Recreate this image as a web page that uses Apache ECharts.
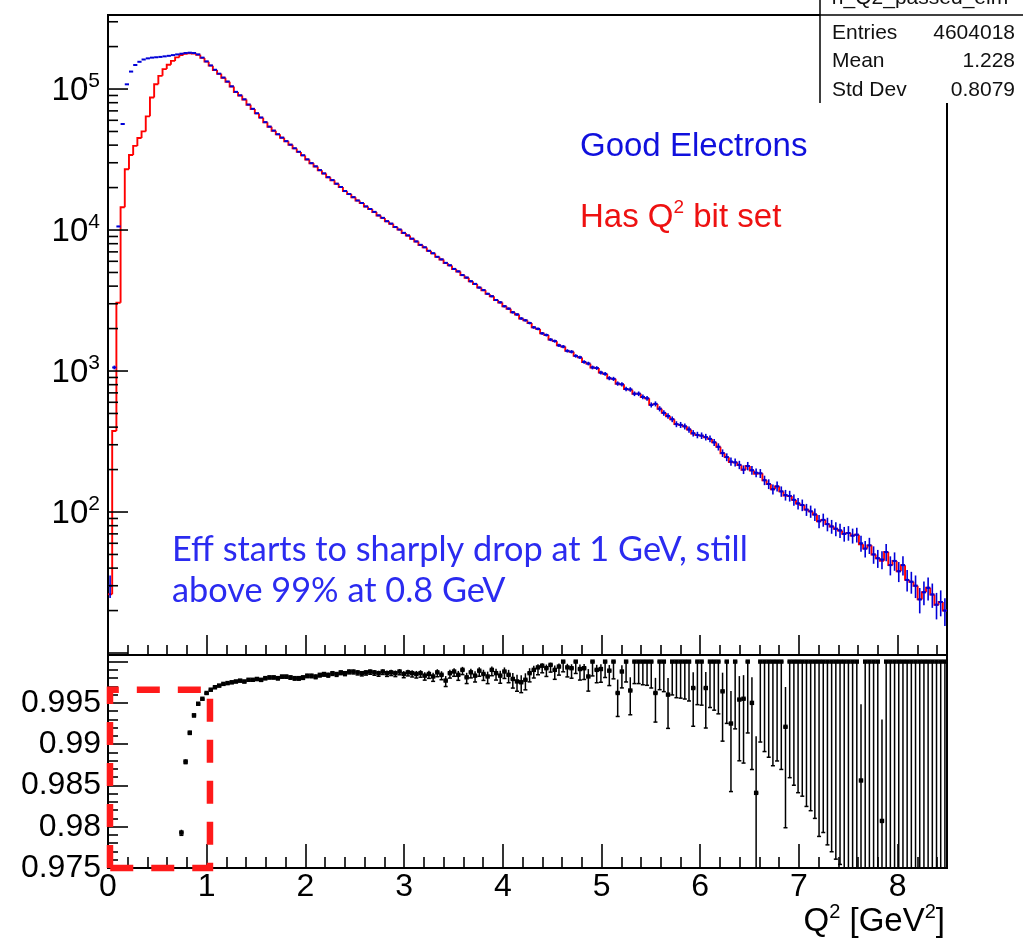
<!DOCTYPE html>
<html>
<head>
<meta charset="utf-8">
<script src="https://cdn.jsdelivr.net/npm/echarts@6.0.0/dist/echarts.min.js"></script>
<style>
html,body{margin:0;padding:0;background:#ffffff;}
#chart{width:1023px;height:940px;}
</style>
</head>
<body>
<div id="chart"></div>
<script>
// ---------------- data ----------------
const xRange = [0, 8.5];               // Q^2 histogram range, 200 bins
const goodElectrons = [
  30,1060,10600,56500,108000,133000,148000,156000,162000,165000,
  167000,168000,169000,170500,172000,174000,176000,178000,180000,181000,
  180000,176000,167000,157000,147000,137000,128500,120500,113000,104500,
  95500,90200,84500,77600,72400,67300,62800,58200,54100,50700,
  47800,45200,42700,40300,38000,35900,33900,31700,29800,28300,
  26600,25200,23700,22600,21300,20200,18900,18000,17100,16200,
  15550,14700,14100,13450,12700,12200,11550,11100,10500,10080,
  9550,9150,8680,8300,7850,7540,7130,6840,6460,6190,
  5850,5620,5300,5090,4790,4600,4330,4150,3910,3750,
  3530,3390,3190,3070,2880,2770,2610,2520,2360,2290,
  2190,2040,1990,1850,1800,1670,1630,1520,1490,1390,
  1370,1280,1250,1160,1130,1060,1050,975,955,890,
  880,815,805,745,740,690,690,655,640,575,
  585,540,505,480,455,420,415,405,385,362,
  352,348,340,330,312,290,262,245,228,225,
  216,200,212,198,190,188,168,158,145,152,
  140,132,130,122,115,112,104,101,96,86,
  88,82,79,76,74,70,71,68,69,60,
  55,58,50,47,46,52,42,45,38,42,
  33,32,30,24,27,29,26,22,23,20
];
const efficiency = [
  0.87,0.354,0.288,0.257,0.25,0.256,0.267,0.288,0.309,0.388,
  0.521,0.643,0.734,0.812,0.865,0.91,0.952,
  0.9793,0.9879,0.9914,0.9935,0.9949,0.9955,0.9962,0.9966,
  0.9969,0.9971,0.9973,0.9974,0.9975,0.9976,0.9977,0.9976,0.9978,0.9978,
  0.9979,0.9978,0.998,0.9981,0.9981,0.998,0.9982,0.9982,0.9981,0.998,
  0.998,0.9981,0.9983,0.9983,0.9982,0.9984,0.9985,0.9984,0.9986,0.9985,
  0.9987,0.9986,0.9988,0.9988,0.9987,0.9986,0.9987,0.9988,0.9987,0.9986,
  0.9988,0.9986,0.9987,0.9986,0.9988,0.9985,0.9987,0.9986,0.9985,0.9986,
  0.9983,0.9985,0.9982,0.9987,0.9984,0.9977,0.9986,0.9988,0.9984,0.999,
  0.9981,0.9987,0.9983,0.9989,0.9985,0.9982,0.999,0.9986,0.9983,0.9988,
  0.9984,0.9979,0.9976,0.9975,0.9978,0.9986,0.999,0.9993,0.9995,0.9992,
  0.9996,0.999,0.9994,1,0.9993,0.9992,1,0.9991,0.9992,0.9982,
  1,0.999,0.9991,1,0.9989,1,0.9962,0.9988,1,0.9965,
  1,1,1,1,1,0.9962,1,1,0.996,1,
  1,1,1,1,0.9968,1,1,0.9968,1,1,
  1,0.9964,1,0.9925,1,0.9954,0.9955,1,0.995,0.9841,
  1,1,1,1,1,1,0.9921,1,1,1,
  1,1,1,1,1,1,1,1,1,1,
  1,1,1,1,0.9856,1,1,1,1,0.9807,
  1,1,1,1,1,1,1,1,1,1,
  1,1,1,1,1
];
const xTickLabels = ['0','1','2','3','4','5','6','7','8'];
const decadeTickLabels = [100, 1000, 10000, 100000];
const ratioTickLabels = ['0.975','0.98','0.985','0.99','0.995'];
const statsTitle = 'h_Q2_passed_elm';
const statsRows = [['Entries','4604018'],['Mean','1.228'],['Std Dev','0.8079']];
const effBox = [[0.02, 0.975], [1.033, 0.99658]];   // highlighted region (data units)

// ---------------- derived ----------------
const FONT = '"Liberation Sans", Arial, sans-serif';
const BLUE = '#0000d8', RED = '#ff0000';
const nBins = goodElectrons.length;
const binW = (xRange[1] - xRange[0]) / nBins;
const hasQ2Bit = goodElectrons.map((n, i) => n * efficiency[i]);
const blueData = goodElectrons.map((n, i) => [xRange[0] + i * binW, xRange[0] + (i + 1) * binW, n]);
const redData = hasQ2Bit.map((n, i) => [xRange[0] + i * binW, xRange[0] + (i + 1) * binW, n, i > 0 ? hasQ2Bit[i - 1] : n]);
const effData = efficiency.map((e, i) => [xRange[0] + i * binW, xRange[0] + (i + 1) * binW, e, goodElectrons[i]]);

const logTicks = [];
for (let d = 1; d <= 5; d++) for (let m = 1; m <= 9; m++) {
  const v = m * Math.pow(10, d);
  if (v >= 10 && v <= 3.3e5) logTicks.push([0, v, m === 1 ? 1 : 0]);
}

function effInterval(p, n) {
  if (p >= 1) return [Math.pow(0.1587, 1 / n), 1];
  const z = 1, d = 1 + z * z / n;
  const c = (p + z * z / (2 * n)) / d;
  const h = z * Math.sqrt(p * (1 - p) / n + z * z / (4 * n * n)) / d;
  return [c - h, Math.min(1, c + h)];
}

function renderRed(params, api) {
  const x0 = api.value(0), x1 = api.value(1), v = api.value(2), pv = api.value(3);
  const pts = [];
  if (params.dataIndex > 0) pts.push(api.coord([x0, pv]));
  pts.push(api.coord([x0, v]), api.coord([x1, v]));
  return { type: 'polyline', shape: { points: pts }, style: { stroke: RED, lineWidth: 1.9, fill: null } };
}
function renderBlue(params, api) {
  const x0 = api.value(0), x1 = api.value(1), v = api.value(2);
  const e = Math.sqrt(v);
  const a = api.coord([x0, v]), b = api.coord([x1, v]);
  const xm = (a[0] + b[0]) / 2;
  const yt = api.coord([x0, v + e])[1], yb = api.coord([x0, Math.max(v - e, 0.5)])[1];
  return { type: 'group', children: [
    { type: 'line', shape: { x1: a[0], y1: a[1], x2: b[0], y2: b[1] }, style: { stroke: BLUE, lineWidth: 2 } },
    { type: 'line', shape: { x1: xm, y1: yt, x2: xm, y2: yb }, style: { stroke: BLUE, lineWidth: 1.6 } }
  ] };
}
function renderEff(params, api) {
  const x0 = api.value(0), x1 = api.value(1), p = api.value(2), n = api.value(3);
  const iv = effInterval(p, n);
  const a = api.coord([x0, p]), b = api.coord([x1, p]);
  const xm = (a[0] + b[0]) / 2;
  const yl = api.coord([x0, iv[0]])[1], yh = api.coord([x0, iv[1]])[1];
  return { type: 'group', children: [
    { type: 'line', shape: { x1: xm, y1: yh, x2: xm, y2: yl }, style: { stroke: '#000', lineWidth: 1.5 } },
    { type: 'line', shape: { x1: xm - 2, y1: yl, x2: xm + 2, y2: yl }, style: { stroke: '#000', lineWidth: 1.5 } },
    { type: 'line', shape: { x1: a[0], y1: a[1], x2: b[0], y2: b[1] }, style: { stroke: '#000', lineWidth: 2 } },
    { type: 'rect', shape: { x: xm - 2.2, y: a[1] - 2.2, width: 4.4, height: 4.4 }, style: { fill: '#000' } }
  ] };
}
function renderLogTick(params, api) {
  const p = api.coord([api.value(0), api.value(1)]);
  const len = api.value(2) ? 20 : 10;
  return { type: 'line', shape: { x1: p[0], y1: p[1], x2: p[0] + len, y2: p[1] }, style: { stroke: '#000', lineWidth: 1.6 } };
}
function renderBox(params, api) {
  const p00 = api.coord([effBox[0][0], effBox[0][1]]);
  const p01 = api.coord([effBox[0][0], effBox[1][1]]);
  const p11 = api.coord([effBox[1][0], effBox[1][1]]);
  const p10 = api.coord([effBox[1][0], effBox[0][1]]);
  return { type: 'polyline', shape: { points: [p00, p01, p11, p10, p00] },
    style: { stroke: '#ff1a1a', lineWidth: 6.5, fill: null, lineDash: [23, 18] } };
}

const tickStyle = { color: '#000', width: 1.6 };
const option = {
  animation: false,
  backgroundColor: '#ffffff',
  grid: [
    { left: 108, top: 15, width: 839, height: 640, show: true, borderColor: '#000', borderWidth: 2, backgroundColor: 'transparent', outerBoundsMode: 'none', containLabel: false },
    { left: 108, top: 655, width: 839, height: 213, show: true, borderColor: '#000', borderWidth: 2, backgroundColor: 'transparent', outerBoundsMode: 'none', containLabel: false }
  ],
  xAxis: [
    { type: 'value', gridIndex: 0, min: xRange[0], max: xRange[1], interval: 1,
      axisLine: { show: false, onZero: false },
      axisTick: { show: true, inside: true, length: 20, lineStyle: tickStyle },
      minorTick: { show: true, splitNumber: 5, length: 10, lineStyle: tickStyle },
      axisLabel: { show: false }, splitLine: { show: false }, minorSplitLine: { show: false } },
    { type: 'value', gridIndex: 1, min: xRange[0], max: xRange[1], interval: 1,
      axisLine: { show: false, onZero: false },
      axisTick: { show: true, inside: true, length: 24, lineStyle: tickStyle },
      minorTick: { show: true, splitNumber: 5, length: 11, lineStyle: tickStyle },
      axisLabel: { show: true, fontSize: 32, fontFamily: FONT, color: '#000', margin: 3, showMaxLabel: false,
        formatter: v => { const s = String(+v.toFixed(3)); return xTickLabels.includes(s) ? s : ''; } },
      splitLine: { show: false }, minorSplitLine: { show: false } }
  ],
  yAxis: [
    { type: 'log', logBase: 10, gridIndex: 0, min: 9.68, max: 3.35e5,
      axisLine: { show: false }, axisTick: { show: false }, splitLine: { show: false },
      axisLabel: { show: true, margin: 8, showMinLabel: false, showMaxLabel: false,
        formatter: v => {
          const k = decadeTickLabels.findIndex(d => Math.abs(Math.log10(v / d)) < 1e-6);
          if (k < 0) return '';
          return '{b|10}{s|' + Math.round(Math.log10(decadeTickLabels[k])) + '}';
        },
        rich: {
          b: { fontSize: 33, fontFamily: FONT, color: '#000', lineHeight: 36, verticalAlign: 'bottom' },
          s: { fontSize: 21, fontFamily: FONT, color: '#000', lineHeight: 21, verticalAlign: 'top' }
        } } },
    { type: 'value', gridIndex: 1, min: 0.975, max: 1.0008, interval: 0.005,
      axisLine: { show: false },
      axisTick: { show: true, inside: true, length: 20, lineStyle: tickStyle },
      minorTick: { show: true, splitNumber: 5, length: 10, lineStyle: tickStyle },
      splitLine: { show: false }, minorSplitLine: { show: false },
      axisLabel: { show: true, fontSize: 32, fontFamily: FONT, color: '#000', margin: 7, showMaxLabel: false,
        formatter: v => { const s = String(+v.toFixed(3)); return ratioTickLabels.includes(s) ? s : ''; } } }
  ],
  series: [
    { type: 'custom', name: 'Has Q2 bit set', xAxisIndex: 0, yAxisIndex: 0, data: redData,
      encode: { x: [0, 1], y: 2 }, renderItem: renderRed, clip: true, silent: true, z: 2 },
    { type: 'custom', name: 'Good Electrons', xAxisIndex: 0, yAxisIndex: 0, data: blueData,
      encode: { x: [0, 1], y: 2 }, renderItem: renderBlue, clip: true, silent: true, z: 3 },
    { type: 'custom', name: 'logTicks', xAxisIndex: 0, yAxisIndex: 0, data: logTicks,
      encode: { x: 0, y: 1 }, renderItem: renderLogTick, clip: false, silent: true, z: 4 },
    { type: 'custom', name: 'Efficiency', xAxisIndex: 1, yAxisIndex: 1, data: effData,
      encode: { x: [0, 1], y: 2 }, renderItem: renderEff, clip: true, silent: true, z: 3 },
    { type: 'custom', name: 'box', xAxisIndex: 1, yAxisIndex: 1, data: [[effBox[0][0], effBox[0][1]]],
      encode: { x: 0, y: 1 }, renderItem: renderBox, clip: false, silent: true, z: 5 }
  ],
  graphic: [
    { type: 'rect', z: 100, shape: { x: 820, y: -2, width: 210, height: 105 }, style: { fill: '#ffffff', stroke: null } },
    { type: 'line', z: 101, shape: { x1: 820, y1: -2, x2: 820, y2: 103 }, style: { stroke: '#000', lineWidth: 1.5 } },
    { type: 'line', z: 101, shape: { x1: 820, y1: 15, x2: 1023, y2: 15 }, style: { stroke: '#000', lineWidth: 1.5 } },
    { type: 'text', z: 101, x: 920, y: 9, style: { text: statsTitle, fontSize: 21, fontFamily: FONT, fill: '#111', align: 'center', verticalAlign: 'bottom' } },
    ...statsRows.map((r, i) => ({ type: 'text', z: 101, x: 832, y: 33 + i * 28.5,
      style: { text: r[0], fontSize: 21, fontFamily: FONT, fill: '#111', align: 'left', verticalAlign: 'middle' } })),
    ...statsRows.map((r, i) => ({ type: 'text', z: 101, x: 1015, y: 33 + i * 28.5,
      style: { text: r[1], fontSize: 21, fontFamily: FONT, fill: '#111', align: 'right', verticalAlign: 'middle' } })),
    { type: 'text', z: 101, x: 580, y: 147, style: { text: 'Good Electrons', fontSize: 33, fontFamily: FONT, fill: '#1010dd', align: 'left', verticalAlign: 'middle' } },
    { type: 'text', z: 101, x: 580, y: 216, style: { text: '{a|Has Q}{b|2}{a| bit set}', align: 'left', verticalAlign: 'middle',
      rich: { a: { fontSize: 33, fontFamily: FONT, fill: '#ee1111', color: '#ee1111', lineHeight: 36, verticalAlign: 'bottom' },
              b: { fontSize: 19, fontFamily: FONT, fill: '#ee1111', color: '#ee1111', lineHeight: 19, verticalAlign: 'top' } } } },
    { type: 'text', z: 101, x: 172, y: 550, style: { text: 'Eff starts to sharply drop at 1 GeV, still', fontSize: 34.3, fontFamily: 'Lato, "Open Sans", sans-serif', fill: '#2b2bf0', align: 'left', verticalAlign: 'middle' } },
    { type: 'text', z: 101, x: 172, y: 591, style: { text: 'above 99% at 0.8 GeV', fontSize: 34.3, fontFamily: 'Lato, "Open Sans", sans-serif', fill: '#2b2bf0', align: 'left', verticalAlign: 'middle' } },
    { type: 'text', z: 101, x: 945, y: 920, style: { text: '{a|Q}{b|2}{a| [GeV}{b|2}{a|]}', align: 'right', verticalAlign: 'middle',
      rich: { a: { fontSize: 33, fontFamily: FONT, color: '#000', lineHeight: 36, verticalAlign: 'bottom' },
              b: { fontSize: 20, fontFamily: FONT, color: '#000', lineHeight: 20, verticalAlign: 'top' } } } }
  ]
};
const chart = echarts.init(document.getElementById('chart'), null, { renderer: 'canvas' });
chart.setOption(option);
</script>
</body>
</html>
